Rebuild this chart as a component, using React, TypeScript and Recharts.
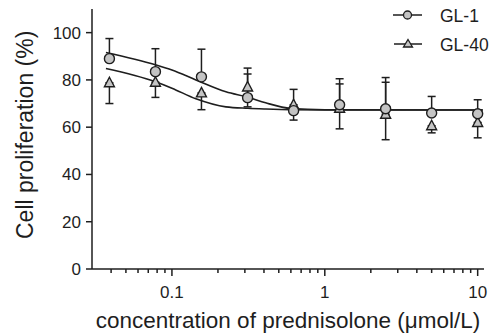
import React from 'react';
import { ScatterChart, Scatter, XAxis, YAxis, ErrorBar, Legend } from 'recharts';

// concentrations (µmol/L)
const conc = [0.039, 0.078, 0.156, 0.3125, 0.625, 1.25, 2.5, 5, 10];

// GL-1 (circles) mean and visible error bars
const gl1 = [89, 83.5, 81.3, 72.5, 67, 69.5, 67.8, 66, 65.7];
const gl1Low = [0, 0, 0, 0, 4, 10.2, 13.1, 0, 0];
const gl1High = [8.5, 9.7, 11.7, 10, 0, 11, 13.2, 7, 5.9];

// GL-40 (triangles)
const gl40 = [78.8, 79, 74.5, 77, 69.5, 68, 65.5, 60.6, 62];
const gl40Low = [8.8, 6.4, 7.1, 8.4, 0, 0, 0, 3, 6.5];
const gl40High = [0, 0, 0, 8, 6.5, 10.3, 13.5, 0, 0];

// fitted curves
const fitX = [0.037, 0.078, 0.1, 0.1435, 0.2255, 0.3136, 0.41, 0.6, 1, 10.8];
const fit1 = [91.6, 86.4, 84.2, 80, 75, 72.7, 70.3, 67.9, 67.4, 67.3];
const fit40 = [84.8, 79.2, 76.5, 72, 68.6, 68, 67.7, 67.4, 67.3, 67.3];

const xTicks = [0.04, 0.05, 0.06, 0.07, 0.08, 0.09, 0.1, 0.2, 0.3, 0.4, 0.5, 0.6, 0.7, 0.8, 0.9, 1, 2, 3, 4, 5, 6, 7, 8, 9, 10];
const majorTicks = [0.1, 1, 10];
const yTicks = [0, 20, 40, 60, 80, 100];

const FONT = '"Liberation Sans", Arial, sans-serif';
const INK = '#1e1e1e';
const FILL = '#c4c4c4';

const gl1Data = conc.map((x, i) => ({ x, y: gl1[i], err: [gl1Low[i], gl1High[i]] }));
const gl40Data = conc.map((x, i) => ({ x, y: gl40[i], err: [gl40Low[i], gl40High[i]] }));
const fit1Data = fitX.map((x, i) => ({ x, y: fit1[i] }));
const fit40Data = fitX.map((x, i) => ({ x, y: fit40[i] }));

const Circle = (props: any) => (
  <circle cx={props.cx} cy={props.cy} r={5} fill={FILL} stroke={INK} strokeWidth={1.4} />
);

const Triangle = (props: any) => {
  const { cx, cy } = props;
  return (
    <path
      d={`M${cx},${cy - 5.5}L${cx + 5},${cy + 4}L${cx - 5},${cy + 4}Z`}
      fill={FILL}
      stroke={INK}
      strokeWidth={1.4}
    />
  );
};

const NoShape = () => <g />;

const XTick = (props: any) => {
  const { x, y, payload } = props;
  const major = majorTicks.includes(payload.value);
  return (
    <g>
      <line x1={x} y1={y} x2={x} y2={y + (major ? 7 : 4)} stroke={INK} strokeWidth={1.5} />
      {major && (
        <text x={x} y={y + 29} textAnchor="middle" fontSize={17} fill={INK} fontFamily={FONT}>
          {payload.value}
        </text>
      )}
    </g>
  );
};

const LegendBox = () => (
  <svg width={119} height={60} style={{ display: 'block' }}>
    <line x1={13} y1={15} x2={42} y2={15} stroke={INK} strokeWidth={1.5} />
    <circle cx={27.5} cy={15} r={4} fill={FILL} stroke={INK} strokeWidth={1.3} />
    <text x={60} y={21.5} fontSize={17.5} fill={INK} fontFamily={FONT}>GL-1</text>
    <line x1={14} y1={44} x2={42} y2={44} stroke={INK} strokeWidth={1.5} />
    <path d="M28,39.5L32.5,47L23.5,47Z" fill={FILL} stroke={INK} strokeWidth={1.3} />
    <text x={60} y={50.5} fontSize={17.5} fill={INK} fontFamily={FONT}>GL-40</text>
  </svg>
);

export default function App() {
  return (
    <div style={{ position: 'absolute', left: 0, top: 0, background: '#fff' }}>
      <ScatterChart width={499} height={336} margin={{ top: 9, right: 15, bottom: 0, left: 0 }}>
        <XAxis
          type="number"
          dataKey="x"
          scale="log"
          domain={[0.03, 11]}
          allowDataOverflow
          ticks={xTicks}
          interval={0}
          tick={<XTick />}
          tickLine={false}
          tickSize={0}
          tickMargin={0}
          height={67}
          axisLine={{ stroke: INK, strokeWidth: 1.5 }}
          label={{
            value: 'concentration of prednisolone (\u03bcmol/L)',
            position: 'insideBottom',
            offset: 8,
            fontSize: 22.5,
            fill: INK,
            fontFamily: FONT,
          }}
        />
        <YAxis
          type="number"
          dataKey="y"
          domain={[0, 110]}
          ticks={yTicks}
          interval={0}
          width={92}
          tickSize={6}
          tickMargin={5}
          tick={{ fontSize: 17, fill: INK, fontFamily: FONT }}
          tickLine={{ stroke: INK, strokeWidth: 1.5 }}
          axisLine={{ stroke: INK, strokeWidth: 1.5 }}
          label={{
            value: 'Cell proliferation (%)',
            angle: -90,
            position: 'insideLeft',
            offset: 25,
            dy: 100,
            fontSize: 23,
            fill: INK,
            fontFamily: FONT,
          }}
        />
        <Legend
          layout="horizontal"
          verticalAlign="middle"
          align="center"
          wrapperStyle={{ top: 0, left: 380, width: 119, height: 60 }}
          content={<LegendBox />}
        />
        <Scatter
          name="fit GL-40"
          data={fit40Data}
          line={{ stroke: INK, strokeWidth: 1.6 }}
          lineJointType="monotoneX"
          shape={<NoShape />}
          legendType="none"
          isAnimationActive={false}
        />
        <Scatter
          name="fit GL-1"
          data={fit1Data}
          line={{ stroke: INK, strokeWidth: 1.6 }}
          lineJointType="monotoneX"
          shape={<NoShape />}
          legendType="none"
          isAnimationActive={false}
        />
        <Scatter name="GL-40" data={gl40Data} shape={<Triangle />} isAnimationActive={false}>
          <ErrorBar dataKey="err" direction="y" width={4} stroke={INK} strokeWidth={1.5} />
        </Scatter>
        <Scatter name="GL-1" data={gl1Data} shape={<Circle />} isAnimationActive={false}>
          <ErrorBar dataKey="err" direction="y" width={4} stroke={INK} strokeWidth={1.5} />
        </Scatter>
      </ScatterChart>
    </div>
  );
}
